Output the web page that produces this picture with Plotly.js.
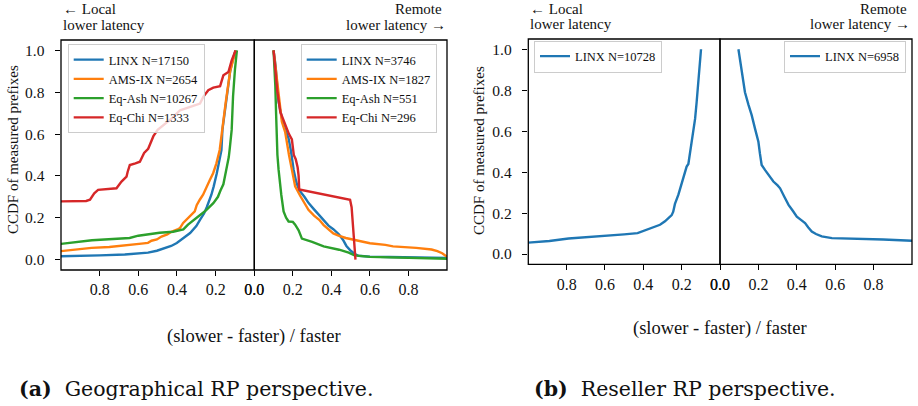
<!DOCTYPE html>
<html>
<head>
<meta charset="utf-8">
<script src="https://cdn.plot.ly/plotly-3.0.1.min.js"></script>
<style>
  html, body { margin: 0; padding: 0; background: #ffffff; }
  #chart { width: 918px; height: 406px; }
</style>
</head>
<body>
<div id="chart"></div>
<script>
// CCDF of measured prefixes against the relative latency difference
// (slower - faster) / faster, split by which side is faster.

const colors = { LINX: '#1f77b4', 'AMS-IX': '#ff7f0e', 'Eq-Ash': '#2ca02c', 'Eq-Chi': '#d62728' };
const tickVals = [0, 0.2, 0.4, 0.6, 0.8];
const yTickVals = [0, 0.2, 0.4, 0.6, 0.8, 1.0];

// ---- (a) Geographical RP perspective, local side faster ----
const geoLocalN = { LINX: 17150, 'AMS-IX': 2654, 'Eq-Ash': 10267, 'Eq-Chi': 1333 };
const geoLocalLinxX = [0.097,0.11,0.125,0.145,0.165,0.17,0.18,0.194,0.21,0.222,0.246,0.26,0.281,0.3,0.332,0.37,0.401,0.43,0.48,0.504,0.55,0.625,0.67,0.8,1.0];
const geoLocalLinxY = [1.0,0.96,0.9,0.75,0.62,0.524,0.47,0.413,0.35,0.31,0.25,0.22,0.19,0.16,0.127,0.1,0.079,0.065,0.049,0.042,0.033,0.028,0.024,0.02,0.016];
const geoLocalAmsX = [0.097,0.11,0.125,0.148,0.168,0.179,0.196,0.213,0.23,0.248,0.265,0.282,0.298,0.308,0.334,0.35,0.368,0.384,0.394,0.429,0.45,0.48,0.504,0.532,0.55,0.584,0.67,0.75,0.842,0.928,1.0];
const geoLocalAmsY = [1.0,0.95,0.9,0.75,0.62,0.524,0.46,0.413,0.38,0.341,0.31,0.286,0.26,0.23,0.206,0.19,0.175,0.151,0.146,0.133,0.12,0.11,0.096,0.09,0.08,0.076,0.067,0.06,0.056,0.048,0.04];
const geoLocalAshX = [0.09,0.1,0.11,0.117,0.127,0.132,0.145,0.16,0.175,0.188,0.212,0.25,0.29,0.32,0.343,0.367,0.42,0.49,0.55,0.6,0.645,0.72,0.84,1.0];
const geoLocalAshY = [1.0,0.91,0.78,0.62,0.53,0.49,0.43,0.36,0.33,0.30,0.27,0.235,0.206,0.185,0.167,0.144,0.133,0.128,0.121,0.114,0.103,0.098,0.092,0.075];
const geoLocalChiX = [0.097,0.117,0.134,0.16,0.177,0.212,0.238,0.264,0.281,0.332,0.384,0.427,0.47,0.5,0.522,0.549,0.57,0.592,0.615,0.644,0.655,0.661,0.687,0.713,0.808,0.828,0.85,0.87,1.0];
const geoLocalChiY = [1.0,0.952,0.897,0.881,0.829,0.822,0.81,0.778,0.746,0.73,0.714,0.675,0.643,0.62,0.59,0.53,0.51,0.468,0.46,0.452,0.42,0.397,0.373,0.341,0.333,0.317,0.286,0.28,0.278];

// ---- (a) Geographical RP perspective, remote side faster ----
const geoRemoteN = { LINX: 3746, 'AMS-IX': 1827, 'Eq-Ash': 551, 'Eq-Chi': 296 };
const geoRemoteLinxX = [0.1,0.11,0.12,0.126,0.14,0.152,0.165,0.178,0.19,0.204,0.218,0.232,0.26,0.282,0.31,0.333,0.36,0.385,0.41,0.44,0.46,0.478,0.497,0.52,0.54,0.6,0.7,0.85,1.0];
const geoRemoteLinxY = [1.0,0.93,0.82,0.754,0.69,0.643,0.61,0.579,0.52,0.43,0.37,0.333,0.3,0.27,0.24,0.215,0.185,0.162,0.145,0.12,0.095,0.065,0.045,0.028,0.018,0.014,0.012,0.01,0.008];
const geoRemoteAmsX = [0.1,0.11,0.12,0.13,0.143,0.16,0.17,0.18,0.195,0.212,0.238,0.26,0.281,0.31,0.337,0.36,0.385,0.41,0.437,0.475,0.54,0.6,0.68,0.72,0.84,0.92,0.95,0.975,1.0];
const geoRemoteAmsY = [1.0,0.92,0.84,0.74,0.659,0.611,0.55,0.5,0.43,0.35,0.305,0.27,0.238,0.21,0.19,0.165,0.143,0.125,0.114,0.103,0.09,0.078,0.07,0.063,0.056,0.048,0.04,0.03,0.013];
const geoRemoteAshX = [0.1,0.105,0.109,0.113,0.116,0.12,0.126,0.132,0.14,0.152,0.165,0.178,0.2,0.212,0.23,0.247,0.3,0.36,0.44,0.49,0.52,0.6,0.8,1.0];
const geoRemoteAshY = [1.0,0.92,0.833,0.7,0.6,0.5,0.43,0.37,0.31,0.23,0.2,0.182,0.18,0.167,0.14,0.1,0.085,0.063,0.047,0.033,0.02,0.013,0.008,0.004];
const geoRemoteChiX = [0.1,0.11,0.12,0.135,0.16,0.18,0.195,0.2,0.205,0.215,0.225,0.23,0.233,0.497,0.505,0.525];
const geoRemoteChiY = [1.0,0.9,0.8,0.706,0.643,0.6,0.575,0.53,0.5,0.48,0.44,0.4,0.335,0.286,0.25,0.0];

// ---- (b) Reseller RP perspective ----
const resLocalN = 10728;
const resLocalX = [0.099,0.106,0.113,0.122,0.13,0.139,0.148,0.156,0.165,0.174,0.191,0.2,0.217,0.235,0.244,0.252,0.287,0.313,0.35,0.382,0.43,0.5,0.617,0.7,0.79,0.89,1.0];
const resLocalY = [1.0,0.91,0.825,0.74,0.66,0.6,0.532,0.5,0.44,0.427,0.37,0.345,0.29,0.245,0.207,0.19,0.16,0.143,0.13,0.122,0.102,0.096,0.088,0.082,0.076,0.064,0.056];
const resRemoteN = 6958;
const resRemoteX = [0.096,0.105,0.113,0.122,0.13,0.148,0.165,0.183,0.2,0.208,0.217,0.235,0.26,0.278,0.3,0.313,0.335,0.357,0.38,0.4,0.42,0.443,0.46,0.478,0.5,0.53,0.583,0.722,0.85,1.0];
const resRemoteY = [1.0,0.95,0.9,0.84,0.79,0.73,0.678,0.61,0.548,0.49,0.435,0.41,0.38,0.354,0.335,0.321,0.28,0.24,0.21,0.183,0.168,0.151,0.13,0.11,0.098,0.086,0.078,0.075,0.071,0.065];

const W = 918, H = 406;
const px = v => v / W;          // pixel column -> paper x
const py = v => 1 - v / H;      // pixel row    -> paper y
const SERIF = 'Liberation Serif, Times New Roman, serif';
const CAPTION = 'DejaVu Serif, serif';
const INK = '#111111';

function line(name, n, x, y, xa, ya, leg) {
  return {
    type: 'scatter', mode: 'lines', x: x, y: y,
    name: name + ' N=' + n, xaxis: xa, yaxis: ya, legend: leg,
    line: { color: colors[name], width: 2.4 },
    hoverinfo: 'skip'
  };
}

const traces = [
  line('LINX', geoLocalN.LINX, geoLocalLinxX, geoLocalLinxY, 'x', 'y', 'legend'),
  line('AMS-IX', geoLocalN['AMS-IX'], geoLocalAmsX, geoLocalAmsY, 'x', 'y', 'legend'),
  line('Eq-Ash', geoLocalN['Eq-Ash'], geoLocalAshX, geoLocalAshY, 'x', 'y', 'legend'),
  line('Eq-Chi', geoLocalN['Eq-Chi'], geoLocalChiX, geoLocalChiY, 'x', 'y', 'legend'),
  line('LINX', geoRemoteN.LINX, geoRemoteLinxX, geoRemoteLinxY, 'x2', 'y2', 'legend2'),
  line('AMS-IX', geoRemoteN['AMS-IX'], geoRemoteAmsX, geoRemoteAmsY, 'x2', 'y2', 'legend2'),
  line('Eq-Ash', geoRemoteN['Eq-Ash'], geoRemoteAshX, geoRemoteAshY, 'x2', 'y2', 'legend2'),
  line('Eq-Chi', geoRemoteN['Eq-Chi'], geoRemoteChiX, geoRemoteChiY, 'x2', 'y2', 'legend2'),
  line('LINX', resLocalN, resLocalX, resLocalY, 'x3', 'y3', 'legend3'),
  line('LINX', resRemoteN, resRemoteX, resRemoteY, 'x4', 'y4', 'legend4')
];

function xAxis(domain, range, anchor) {
  return {
    domain: domain, range: range, anchor: anchor,
    tickvals: tickVals, tickformat: '.1f',
    ticks: 'outside', ticklen: 5, tickwidth: 1, tickcolor: '#000',
    showline: false, showgrid: false, zeroline: false,
    tickfont: { family: SERIF, size: 16, color: INK }
  };
}
function yAxis(domain, anchor, labelled) {
  return {
    domain: domain, range: [-0.05, 1.05], anchor: anchor,
    tickvals: yTickVals, tickformat: '.1f',
    ticks: labelled ? 'outside' : '', ticklen: 5.5, tickwidth: 1, tickcolor: '#000',
    ticklabelstandoff: 7,
    showticklabels: labelled,
    showline: false, showgrid: false, zeroline: false,
    tickfont: { family: SERIF, size: 15.5, color: INK }
  };
}

// panel frames, drawn as rectangles so the shared middle edge stays thin
function frame(xa, ya) {
  return {
    type: 'rect', xref: xa + ' domain', yref: ya + ' domain',
    x0: 0, x1: 1, y0: 0, y1: 1, layer: 'above',
    line: { color: '#000', width: 1.3 }, fillcolor: 'rgba(0,0,0,0)'
  };
}

const yDomA = [py(270), py(40)];
const yDomB = [py(264.3), py(39)];

function legendAt(x, y, xanchor) {
  return {
    x: x, y: y, xanchor: xanchor, yanchor: 'top',
    bgcolor: 'rgba(255,255,255,0.8)', bordercolor: '#cccccc', borderwidth: 1,
    font: { family: SERIF, size: 12.5, color: INK },
    itemwidth: 30, tracegroupgap: 0
  };
}

function note(text, x, y, xanchor, size, extra) {
  return Object.assign({
    text: text, xref: 'paper', yref: 'paper', x: x, y: y,
    xanchor: xanchor, yanchor: 'middle', showarrow: false,
    font: { family: SERIF, size: size, color: INK }
  }, extra || {});
}

const annotations = [
  // direction headers above each half
  note('← Local', px(61), py(9.3), 'left', 15),
  note('lower latency', px(61), py(25), 'left', 15),
  note('Remote', px(444), py(9.3), 'right', 15),
  note('lower latency →', px(447.5), py(25), 'right', 15),
  note('← Local', px(528.3), py(8.5), 'left', 15),
  note('lower latency', px(528.3), py(24), 'left', 15),
  note('Remote', px(908.5), py(8.5), 'right', 15),
  note('lower latency →', px(912), py(24), 'right', 15),
  // axis titles
  note('(slower - faster) / faster', px(254.3), py(336.7), 'center', 18.5),
  note('(slower - faster) / faster', px(720), py(328.3), 'center', 18.5),
  note('CCDF of measured prefixes', px(13), py(150), 'center', 15, { textangle: -90 }),
  note('CCDF of measured prefixes', px(479), py(150), 'center', 15, { textangle: -90 }),
  // sub-figure captions
  note('<b>(a)</b>  Geographical RP perspective.', px(17), py(389), 'left', 20.5,
       { font: { family: CAPTION, size: 20.5, color: INK } }),
  note('<b>(b)</b>  Reseller RP perspective.', px(531.7), py(389), 'left', 20.5,
       { font: { family: CAPTION, size: 20.5, color: INK } })
];

const layout = {
  width: W, height: H,
  margin: { l: 0, r: 0, t: 0, b: 0 },
  paper_bgcolor: '#ffffff', plot_bgcolor: '#ffffff',
  showlegend: true,
  xaxis:  xAxis([px(61), px(254.3)], [1.0, 0], 'y'),
  xaxis2: xAxis([px(254.3), px(447)], [0, 1.0], 'y2'),
  xaxis3: xAxis([px(528.3), px(720)], [1.0, 0], 'y3'),
  xaxis4: xAxis([px(720), px(912)], [0, 1.0], 'y4'),
  yaxis:  yAxis(yDomA, 'x', true),
  yaxis2: yAxis(yDomA, 'x2', false),
  yaxis3: yAxis(yDomB, 'x3', true),
  yaxis4: yAxis(yDomB, 'x4', false),
  legend:  legendAt(px(67.7), py(44), 'left'),
  legend2: legendAt(px(436.7), py(44), 'right'),
  legend3: legendAt(px(534), py(40.5), 'left'),
  legend4: legendAt(px(906), py(40.5), 'right'),
  shapes: [frame('x', 'y'), frame('x2', 'y2'), frame('x3', 'y3'), frame('x4', 'y4')],
  annotations: annotations
};

Plotly.newPlot('chart', traces, layout, { staticPlot: true, displayModeBar: false });
</script>
</body>
</html>
